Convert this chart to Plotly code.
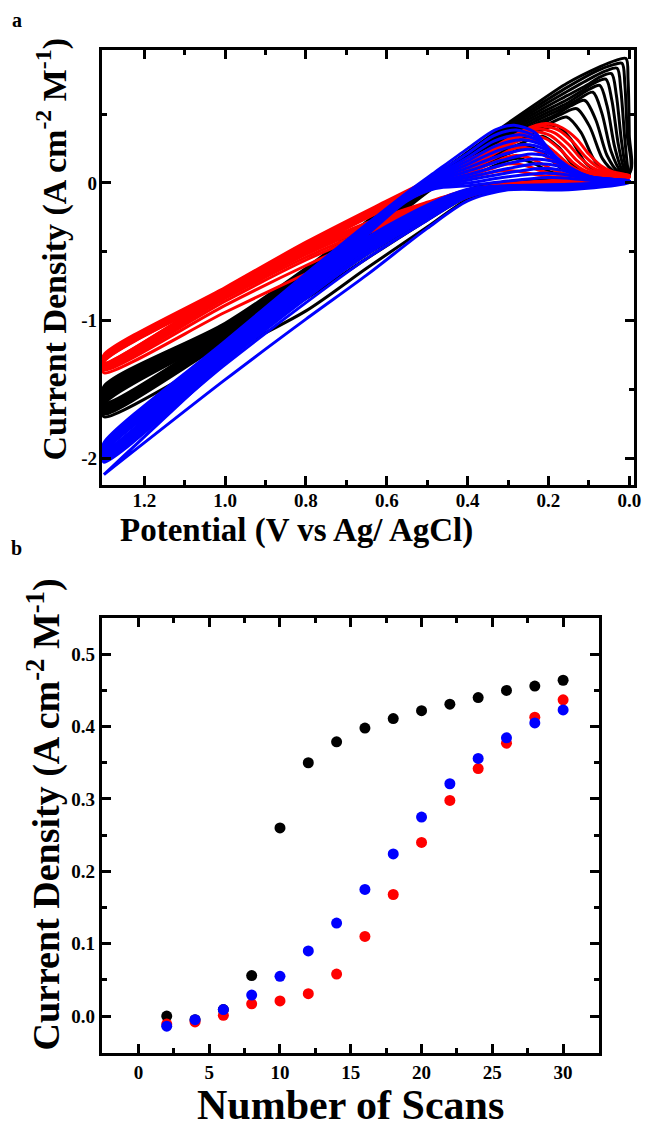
import plotly.graph_objects as go

# ---------------- Panel a : cyclic voltammograms ----------------
# shared potentials of the forward (lower) branch, V
LOW_E = [0.0, 0.15, 0.3, 0.4, 0.5, 0.65, 0.8, 1.0, 1.3]

BLACK_LOW_I = [
    [0.05, 0.01, -0.03, -0.12, -0.32, -0.62, -0.93, -1.24, -1.70],
    [0.055, 0.015, -0.02, -0.10, -0.27, -0.55, -0.84, -1.16, -1.68],
    [0.06, 0.02, -0.015, -0.09, -0.25, -0.52, -0.81, -1.14, -1.67],
    [0.06, 0.02, -0.01, -0.085, -0.24, -0.50, -0.79, -1.13, -1.66],
    [0.065, 0.025, -0.01, -0.08, -0.23, -0.49, -0.78, -1.12, -1.65],
    [0.065, 0.025, -0.005, -0.075, -0.22, -0.48, -0.77, -1.12, -1.64],
    [0.07, 0.03, -0.005, -0.07, -0.215, -0.47, -0.76, -1.11, -1.64],
    [0.07, 0.03, 0.0, -0.065, -0.21, -0.46, -0.75, -1.11, -1.63],
    [0.07, 0.03, 0.0, -0.06, -0.205, -0.455, -0.745, -1.10, -1.63],
    [0.075, 0.035, 0.0, -0.06, -0.20, -0.45, -0.74, -1.10, -1.62],
    [0.08, 0.035, 0.005, -0.055, -0.195, -0.445, -0.735, -1.09, -1.62],
    [0.08, 0.035, 0.005, -0.055, -0.19, -0.44, -0.73, -1.09, -1.61],
    [0.08, 0.04, 0.005, -0.05, -0.185, -0.435, -0.725, -1.08, -1.61],
    [0.07, 0.04, 0.01, -0.05, -0.18, -0.43, -0.72, -1.08, -1.60],
]
BLACK_UP_E = [
    [1.3, 1.0, 0.8, 0.6, 0.45, 0.37, 0.33, 0.30, 0.275, 0.235, 0.195, 0.15, 0.0],
    [1.3, 1.0, 0.8, 0.6, 0.45, 0.36, 0.31, 0.275, 0.245, 0.205, 0.165, 0.12, 0.0],
    [1.3, 1.0, 0.8, 0.6, 0.45, 0.35, 0.29, 0.25, 0.215, 0.175, 0.135, 0.095, 0.0],
    [1.3, 1.0, 0.8, 0.6, 0.45, 0.317, 0.26, 0.215, 0.182, 0.145, 0.108, 0.07, 0.0],
    [1.3, 1.0, 0.8, 0.6, 0.45, 0.317, 0.25, 0.21, 0.185, 0.155, 0.12, 0.085, 0.05, 0.0],
    [1.3, 1.0, 0.8, 0.6, 0.45, 0.317, 0.235, 0.20, 0.165, 0.13, 0.098, 0.066, 0.035, 0.0],
    [1.3, 1.0, 0.8, 0.6, 0.45, 0.317, 0.235, 0.18, 0.145, 0.11, 0.083, 0.055, 0.028, 0.0],
    [1.3, 1.0, 0.8, 0.6, 0.45, 0.317, 0.235, 0.16, 0.125, 0.09, 0.068, 0.045, 0.022, 0.0],
    [1.3, 1.0, 0.8, 0.6, 0.45, 0.317, 0.235, 0.154, 0.125, 0.10, 0.073, 0.055, 0.036, 0.017, 0.0],
    [1.3, 1.0, 0.8, 0.6, 0.45, 0.317, 0.235, 0.154, 0.115, 0.088, 0.058, 0.043, 0.027, 0.012, 0.0],
    [1.3, 1.0, 0.8, 0.6, 0.45, 0.317, 0.235, 0.154, 0.10, 0.073, 0.044, 0.032, 0.019, 0.007, 0.0],
    [1.3, 1.0, 0.8, 0.6, 0.45, 0.317, 0.235, 0.154, 0.09, 0.058, 0.030, 0.021, 0.011, 0.003, 0.0],
    [1.3, 1.0, 0.8, 0.6, 0.45, 0.317, 0.235, 0.154, 0.08, 0.045, 0.018, 0.011, 0.005, 0.0],
    [1.3, 1.0, 0.8, 0.6, 0.45, 0.317, 0.235, 0.154, 0.072, 0.035, 0.008, 0.003, 0.0, 0.0],
]
BLACK_UP_I = [
    [-1.61, -1.10, -0.75, -0.30, 0.03, 0.08, 0.13, 0.165, 0.18, 0.14, 0.08, 0.055, 0.05],
    [-1.60, -1.09, -0.74, -0.29, 0.04, 0.13, 0.20, 0.24, 0.26, 0.20, 0.10, 0.065, 0.055],
    [-1.59, -1.08, -0.73, -0.28, 0.05, 0.18, 0.26, 0.31, 0.34, 0.26, 0.12, 0.07, 0.06],
    [-1.58, -1.08, -0.72, -0.27, 0.06, 0.25, 0.33, 0.385, 0.42, 0.32, 0.145, 0.075, 0.06],
    [-1.57, -1.07, -0.71, -0.26, 0.07, 0.265, 0.36, 0.415, 0.45, 0.48, 0.37, 0.16, 0.08, 0.065],
    [-1.56, -1.07, -0.70, -0.25, 0.075, 0.28, 0.40, 0.455, 0.505, 0.54, 0.41, 0.175, 0.08, 0.065],
    [-1.55, -1.06, -0.69, -0.24, 0.08, 0.295, 0.425, 0.50, 0.56, 0.60, 0.46, 0.20, 0.085, 0.07],
    [-1.54, -1.06, -0.68, -0.23, 0.085, 0.31, 0.445, 0.55, 0.61, 0.66, 0.51, 0.23, 0.09, 0.07],
    [-1.53, -1.05, -0.67, -0.22, 0.09, 0.325, 0.465, 0.58, 0.635, 0.68, 0.71, 0.56, 0.26, 0.095, 0.07],
    [-1.52, -1.05, -0.66, -0.21, 0.095, 0.34, 0.485, 0.605, 0.675, 0.725, 0.755, 0.60, 0.28, 0.10, 0.075],
    [-1.51, -1.04, -0.65, -0.20, 0.10, 0.355, 0.505, 0.635, 0.72, 0.77, 0.795, 0.64, 0.30, 0.10, 0.08],
    [-1.50, -1.04, -0.64, -0.19, 0.105, 0.37, 0.525, 0.665, 0.77, 0.815, 0.835, 0.68, 0.32, 0.10, 0.08],
    [-1.49, -1.03, -0.63, -0.18, 0.11, 0.385, 0.545, 0.695, 0.815, 0.855, 0.87, 0.72, 0.35, 0.08],
    [-1.48, -1.02, -0.62, -0.17, 0.12, 0.40, 0.567, 0.725, 0.846, 0.89, 0.905, 0.75, 0.35, 0.07],
]

RED_LOW_I = [
    [0.04, 0.0, -0.03, -0.10, -0.23, -0.45, -0.66, -0.94, -1.38],
    [0.04, 0.005, -0.025, -0.09, -0.21, -0.40, -0.60, -0.89, -1.36],
    [0.045, 0.01, -0.02, -0.08, -0.19, -0.37, -0.56, -0.86, -1.35],
    [0.045, 0.01, -0.02, -0.075, -0.18, -0.35, -0.54, -0.84, -1.34],
    [0.05, 0.015, -0.015, -0.07, -0.17, -0.33, -0.52, -0.83, -1.33],
    [0.05, 0.015, -0.015, -0.065, -0.16, -0.32, -0.51, -0.82, -1.33],
    [0.05, 0.02, -0.01, -0.06, -0.155, -0.31, -0.50, -0.81, -1.32],
    [0.055, 0.02, -0.01, -0.06, -0.15, -0.30, -0.495, -0.80, -1.32],
    [0.055, 0.02, -0.005, -0.055, -0.145, -0.295, -0.49, -0.795, -1.31],
    [0.055, 0.025, -0.005, -0.05, -0.14, -0.29, -0.485, -0.79, -1.31],
]
RED_UP_E = [
    [1.3, 1.0, 0.8, 0.6, 0.45, 0.385, 0.35, 0.325, 0.30, 0.265, 0.23, 0.19, 0.0],
    [1.3, 1.0, 0.8, 0.6, 0.45, 0.38, 0.34, 0.315, 0.29, 0.255, 0.22, 0.19, 0.0],
    [1.3, 1.0, 0.8, 0.6, 0.45, 0.375, 0.33, 0.305, 0.28, 0.245, 0.21, 0.18, 0.14, 0.0],
    [1.3, 1.0, 0.8, 0.6, 0.45, 0.37, 0.32, 0.295, 0.27, 0.23, 0.195, 0.165, 0.13, 0.0],
    [1.3, 1.0, 0.8, 0.6, 0.45, 0.365, 0.31, 0.28, 0.255, 0.215, 0.18, 0.15, 0.12, 0.065, 0.0],
    [1.3, 1.0, 0.8, 0.6, 0.45, 0.36, 0.30, 0.27, 0.245, 0.205, 0.17, 0.14, 0.11, 0.06, 0.0],
    [1.3, 1.0, 0.8, 0.6, 0.45, 0.355, 0.29, 0.26, 0.235, 0.195, 0.16, 0.13, 0.10, 0.055, 0.0],
    [1.3, 1.0, 0.8, 0.6, 0.45, 0.35, 0.28, 0.25, 0.225, 0.185, 0.15, 0.12, 0.09, 0.05, 0.0],
    [1.3, 1.0, 0.8, 0.6, 0.45, 0.34, 0.27, 0.24, 0.215, 0.175, 0.14, 0.11, 0.08, 0.045, 0.0],
    [1.3, 1.0, 0.8, 0.6, 0.45, 0.33, 0.26, 0.23, 0.205, 0.165, 0.13, 0.10, 0.072, 0.04, 0.0],
]
RED_UP_I = [
    [-1.30, -0.81, -0.485, -0.185, 0.0, 0.045, 0.07, 0.085, 0.09, 0.08, 0.06, 0.045, 0.04],
    [-1.295, -0.805, -0.48, -0.18, 0.01, 0.07, 0.105, 0.13, 0.14, 0.125, 0.09, 0.065, 0.04],
    [-1.29, -0.80, -0.475, -0.175, 0.02, 0.10, 0.155, 0.185, 0.20, 0.18, 0.13, 0.085, 0.06, 0.045],
    [-1.285, -0.795, -0.47, -0.17, 0.03, 0.13, 0.20, 0.24, 0.26, 0.235, 0.17, 0.11, 0.07, 0.045],
    [-1.28, -0.79, -0.465, -0.165, 0.04, 0.16, 0.255, 0.30, 0.32, 0.29, 0.215, 0.135, 0.085, 0.06, 0.05],
    [-1.275, -0.785, -0.46, -0.16, 0.05, 0.18, 0.29, 0.335, 0.35, 0.32, 0.24, 0.15, 0.09, 0.06, 0.05],
    [-1.27, -0.78, -0.455, -0.155, 0.06, 0.20, 0.32, 0.36, 0.375, 0.345, 0.26, 0.165, 0.10, 0.065, 0.05],
    [-1.265, -0.775, -0.45, -0.15, 0.07, 0.22, 0.345, 0.382, 0.395, 0.365, 0.28, 0.18, 0.11, 0.07, 0.05],
    [-1.26, -0.77, -0.44, -0.14, 0.08, 0.245, 0.365, 0.402, 0.415, 0.385, 0.30, 0.195, 0.12, 0.075, 0.055],
    [-1.25, -0.76, -0.43, -0.13, 0.09, 0.27, 0.385, 0.42, 0.432, 0.40, 0.32, 0.21, 0.13, 0.08, 0.055],
]

BLUE_LOW_I = [
    [0.0, -0.05, -0.05, -0.13, -0.33, -0.67, -0.99, -1.43, -2.12],
    [0.005, -0.04, -0.045, -0.10, -0.27, -0.55, -0.87, -1.32, -2.03],
    [0.008, -0.035, -0.04, -0.09, -0.25, -0.52, -0.84, -1.30, -2.02],
    [0.01, -0.03, -0.04, -0.085, -0.24, -0.50, -0.82, -1.28, -2.01],
    [0.01, -0.03, -0.035, -0.08, -0.23, -0.48, -0.80, -1.27, -2.00],
    [0.012, -0.025, -0.035, -0.075, -0.22, -0.465, -0.79, -1.26, -1.99],
    [0.012, -0.025, -0.03, -0.07, -0.21, -0.45, -0.78, -1.25, -1.98],
    [0.015, -0.02, -0.03, -0.065, -0.20, -0.44, -0.77, -1.24, -1.97],
    [0.015, -0.02, -0.025, -0.06, -0.19, -0.43, -0.76, -1.23, -1.96],
    [0.015, -0.015, -0.025, -0.055, -0.18, -0.42, -0.75, -1.22, -1.96],
    [0.015, -0.015, -0.02, -0.05, -0.17, -0.41, -0.74, -1.21, -1.95],
    [0.015, -0.01, -0.02, -0.045, -0.16, -0.40, -0.73, -1.20, -1.95],
]
BLUE_UP_E = [
    [1.3, 1.22, 1.0, 0.8, 0.65, 0.55, 0.48, 0.40, 0.30, 0.20, 0.15, 0.10, 0.0],
    [1.3, 1.0, 0.8, 0.65, 0.55, 0.48, 0.40, 0.30, 0.21, 0.16, 0.12, 0.08, 0.0],
    [1.3, 1.0, 0.8, 0.65, 0.55, 0.48, 0.40, 0.30, 0.22, 0.17, 0.13, 0.09, 0.0],
    [1.3, 1.0, 0.8, 0.65, 0.55, 0.48, 0.40, 0.30, 0.228, 0.178, 0.138, 0.098, 0.0],
    [1.3, 1.0, 0.8, 0.65, 0.55, 0.48, 0.40, 0.31, 0.235, 0.185, 0.145, 0.105, 0.06, 0.0],
    [1.3, 1.0, 0.8, 0.65, 0.55, 0.48, 0.40, 0.315, 0.242, 0.192, 0.152, 0.112, 0.07, 0.0],
    [1.3, 1.0, 0.8, 0.65, 0.55, 0.48, 0.40, 0.32, 0.25, 0.20, 0.16, 0.12, 0.08, 0.0],
    [1.3, 1.0, 0.8, 0.65, 0.55, 0.48, 0.40, 0.325, 0.258, 0.208, 0.168, 0.128, 0.09, 0.0],
    [1.3, 1.0, 0.8, 0.65, 0.55, 0.48, 0.40, 0.33, 0.265, 0.215, 0.175, 0.135, 0.095, 0.0],
    [1.3, 1.0, 0.8, 0.65, 0.55, 0.48, 0.40, 0.335, 0.272, 0.222, 0.182, 0.142, 0.10, 0.0],
    [1.3, 1.0, 0.8, 0.65, 0.55, 0.48, 0.40, 0.335, 0.28, 0.23, 0.19, 0.15, 0.11, 0.0],
    [1.3, 1.0, 0.8, 0.65, 0.55, 0.48, 0.40, 0.333, 0.285, 0.235, 0.195, 0.155, 0.115, 0.06, 0.0],
]
BLUE_UP_I = [
    [-2.12, -1.90, -1.30, -0.79, -0.38, -0.13, -0.04, -0.02, 0.015, 0.04, 0.035, 0.02, 0.0],
    [-1.965, -1.25, -0.76, -0.36, -0.12, -0.03, 0.0, 0.045, 0.07, 0.062, 0.04, 0.02, 0.005],
    [-1.96, -1.24, -0.75, -0.355, -0.115, -0.02, 0.02, 0.075, 0.105, 0.095, 0.06, 0.03, 0.008],
    [-1.955, -1.23, -0.74, -0.35, -0.11, -0.01, 0.04, 0.105, 0.14, 0.125, 0.08, 0.04, 0.01],
    [-1.95, -1.22, -0.73, -0.345, -0.105, 0.0, 0.06, 0.135, 0.175, 0.155, 0.10, 0.05, 0.025, 0.01],
    [-1.94, -1.21, -0.72, -0.34, -0.10, 0.01, 0.085, 0.165, 0.21, 0.185, 0.12, 0.06, 0.03, 0.012],
    [-1.935, -1.20, -0.71, -0.335, -0.095, 0.02, 0.11, 0.20, 0.245, 0.215, 0.135, 0.07, 0.035, 0.012],
    [-1.93, -1.19, -0.70, -0.33, -0.09, 0.03, 0.135, 0.235, 0.28, 0.245, 0.155, 0.075, 0.04, 0.015],
    [-1.92, -1.18, -0.69, -0.325, -0.085, 0.04, 0.16, 0.27, 0.315, 0.275, 0.17, 0.08, 0.04, 0.015],
    [-1.91, -1.17, -0.68, -0.32, -0.08, 0.05, 0.185, 0.305, 0.35, 0.305, 0.19, 0.085, 0.043, 0.015],
    [-1.90, -1.16, -0.67, -0.31, -0.075, 0.065, 0.215, 0.345, 0.385, 0.335, 0.21, 0.09, 0.045, 0.015],
    [-1.89, -1.15, -0.66, -0.30, -0.07, 0.08, 0.25, 0.385, 0.42, 0.37, 0.23, 0.095, 0.046, 0.025, 0.015],
]

A_XTICKS = [1.2, 1.0, 0.8, 0.6, 0.4, 0.2, 0.0]
A_XTICKTEXT = ["1.2", "1.0", "0.8", "0.6", "0.4", "0.2", "0.0"]
A_YTICKS = [0, -1, -2]
A_YTICKTEXT = ["0", "-1", "-2"]

# ---------------- Panel b : peak current vs scan number ----------------
SCANS = [2, 4, 6, 8, 10, 12, 14, 16, 18, 20, 22, 24, 26, 28, 30]
BLACK_B = [0.0, -0.005, 0.009, 0.056, 0.26, 0.35, 0.379, 0.398, 0.411, 0.422, 0.431, 0.44, 0.45, 0.456, 0.464]
RED_B = [-0.011, -0.008, 0.001, 0.017, 0.021, 0.031, 0.058, 0.11, 0.168, 0.24, 0.298, 0.342, 0.377, 0.413, 0.437]
BLUE_B = [-0.014, -0.005, 0.009, 0.029, 0.055, 0.09, 0.1285, 0.175, 0.224, 0.275, 0.321, 0.356, 0.3845, 0.405, 0.423]
B_XTICKS = [0, 5, 10, 15, 20, 25, 30]
B_YTICKS = [0.0, 0.1, 0.2, 0.3, 0.4, 0.5]
B_YTICKTEXT = ["0.0", "0.1", "0.2", "0.3", "0.4", "0.5"]

W, H = 652, 1127
FONT = "Liberation Serif"

fig = go.Figure()

for lows, ups_e, ups_i, col in [
    (BLACK_LOW_I, BLACK_UP_E, BLACK_UP_I, "#000000"),
    (RED_LOW_I, RED_UP_E, RED_UP_I, "#ff0000"),
    (BLUE_LOW_I, BLUE_UP_E, BLUE_UP_I, "#0000ff"),
]:
    for lo, ue, ui in zip(lows, ups_e, ups_i):
        fig.add_trace(go.Scatter(
            x=LOW_E + ue, y=lo + ui, mode="lines",
            line=dict(color=col, width=3, shape="spline", smoothing=0.8),
            xaxis="x", yaxis="y", showlegend=False, hoverinfo="skip"))

for vals, col in [(BLACK_B, "#000000"), (RED_B, "#ff0000"), (BLUE_B, "#0000ff")]:
    fig.add_trace(go.Scatter(
        x=SCANS, y=vals, mode="markers",
        marker=dict(color=col, size=11, line=dict(width=0)),
        xaxis="x2", yaxis="y2", showlegend=False, hoverinfo="skip"))

tickfont = dict(family=FONT, size=19, color="black", weight="bold")
common = dict(showline=True, linewidth=3, linecolor="black", mirror="allticks",
              ticks="inside", ticklen=9, tickwidth=2.5, tickcolor="black",
              showgrid=False, zeroline=False, tickfont=tickfont)

def px_x(a, b):
    return [a / W, b / W]

def px_y(top, bottom):
    return [1 - bottom / H, 1 - top / H]

fig.update_layout(
    width=W, height=H, margin=dict(l=0, r=0, t=0, b=0),
    paper_bgcolor="white", plot_bgcolor="white", showlegend=False,
    xaxis=dict(domain=px_x(103, 641), range=[1.305, -0.012], anchor="y",
               tickmode="array", tickvals=A_XTICKS, ticktext=A_XTICKTEXT,
               minor=dict(tickvals=[1.1, 0.9, 0.7, 0.5, 0.3, 0.1], ticks="inside",
                          ticklen=5, tickwidth=2.5, tickcolor="black"),
               ticklabelstandoff=-4, **common),
    yaxis=dict(domain=px_y(50, 485), range=[-2.196, 0.967], anchor="x",
               tickmode="array", tickvals=A_YTICKS, ticktext=A_YTICKTEXT,
               minor=dict(tickvals=[0.5, -0.5, -1.5], ticks="inside",
                          ticklen=5, tickwidth=2.5, tickcolor="black"),
               ticklabelstandoff=-2, **common),
    xaxis2=dict(domain=px_x(103, 605), range=[-2.58, 32.5], anchor="y2",
                tickmode="array", tickvals=B_XTICKS,
                minor=dict(tickvals=[2.5, 7.5, 12.5, 17.5, 22.5, 27.5], ticks="inside",
                           ticklen=5, tickwidth=2.5, tickcolor="black"),
                ticklabelstandoff=0, **common),
    yaxis2=dict(domain=px_y(618, 1053), range=[-0.051, 0.55], anchor="x2",
                tickmode="array", tickvals=B_YTICKS, ticktext=B_YTICKTEXT,
                minor=dict(tickvals=[0.05, 0.15, 0.25, 0.35, 0.45], ticks="inside",
                           ticklen=5, tickwidth=2.5, tickcolor="black"),
                ticklabelstandoff=0, **common),
)

def ann(text, x, y, size, angle=0):
    fig.add_annotation(text=text, x=x / W, y=1 - y / H, xref="paper", yref="paper",
                       showarrow=False, textangle=angle, xanchor="center", yanchor="middle",
                       font=dict(family=FONT, size=size, color="black", weight="bold"))

ann("a", 17, 20, 20)
ann("b", 17, 548, 20)
ann("Current Density (A cm<sup>-2</sup> M<sup>-1</sup>)", 52, 249, 34, -90)
ann("Potential (V vs Ag/ AgCl)", 300, 530, 33)
ann("Current Density (A cm<sup>-2</sup> M<sup>-1</sup>)", 44, 815, 38, -90)
ann("Number of Scans", 354, 1105, 42)

fig.write_html("out.html", config={"displayModeBar": False},
               post_script="document.body.style.margin='0';document.body.style.overflow='hidden';")
